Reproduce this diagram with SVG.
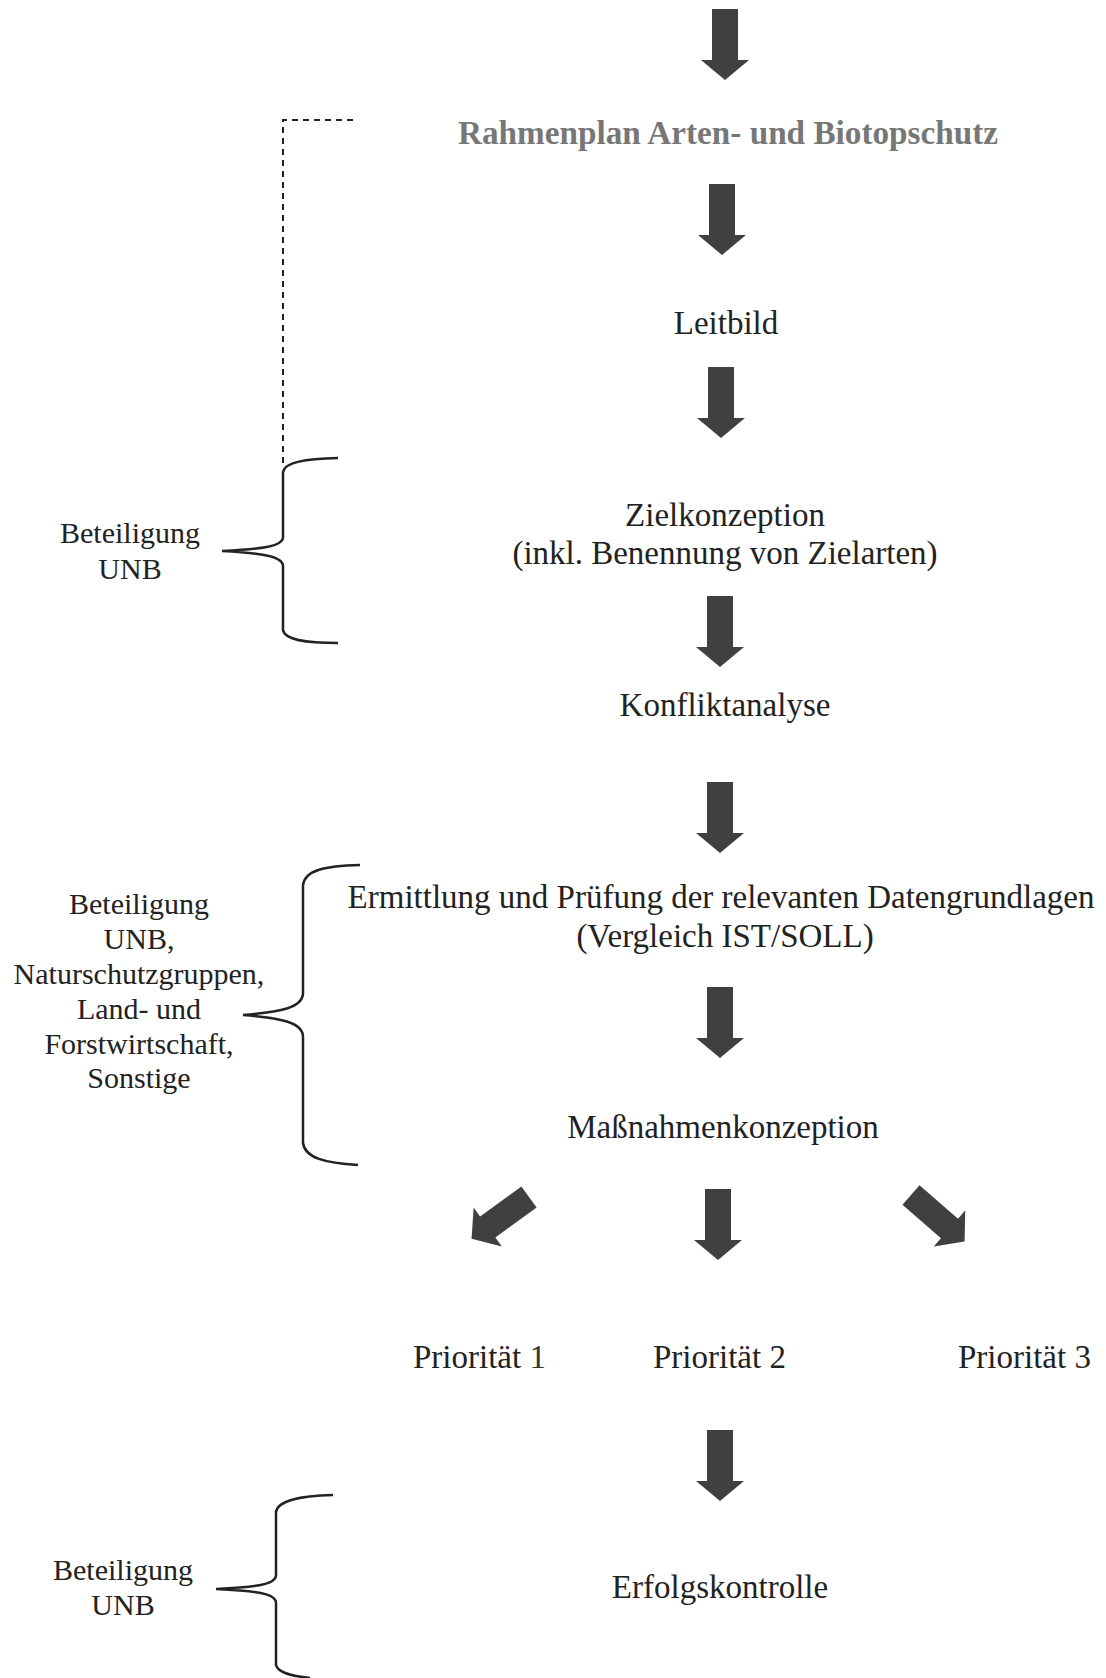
<svg xmlns="http://www.w3.org/2000/svg" xmlns:xlink="http://www.w3.org/1999/xlink" width="1106" height="1678" viewBox="0 0 1106 1678">
<style>
.t{font-family:"Liberation Serif","Times New Roman",serif;font-size:33px;fill:#222;text-anchor:middle}
.l{font-family:"Liberation Serif","Times New Roman",serif;font-size:30px;fill:#222;text-anchor:middle}
.g{font-family:"Liberation Serif","Times New Roman",serif;font-size:33px;font-weight:bold;fill:#777;text-anchor:middle}
.br{fill:none;stroke:#222;stroke-width:2.5}
.ds{fill:none;stroke:#222;stroke-width:2;stroke-dasharray:6,5}
</style>
<defs>
<path id="arr" d="M-13,0 H13 V51 H24 L0,71 L-24,51 H-13 Z" fill="#404040"/>
</defs>
<rect width="1106" height="1678" fill="#fff"/>
<g id="connectors">
<use xlink:href="#arr" transform="translate(725,9)"/>
<use xlink:href="#arr" transform="translate(722,184)"/>
<use xlink:href="#arr" transform="translate(721,367)"/>
<use xlink:href="#arr" transform="translate(720,596)"/>
<use xlink:href="#arr" transform="translate(720,782)"/>
<use xlink:href="#arr" transform="translate(720,987)"/>
<use xlink:href="#arr" transform="translate(529,1197) rotate(54)"/>
<use xlink:href="#arr" transform="translate(718,1189)"/>
<use xlink:href="#arr" transform="translate(911,1195) rotate(-49)"/>
<use xlink:href="#arr" transform="translate(720,1430)"/>
<path class="ds" d="M353,120 H283 V463"/>
</g>
<g id="rahmenplan"><text class="g" x="728" y="144" textLength="540" lengthAdjust="spacingAndGlyphs">Rahmenplan Arten- und Biotopschutz</text></g>
<g id="leitbild"><text class="t" x="726" y="334">Leitbild</text></g>
<g id="zielkonzeption"><text class="t" x="725" y="526">Zielkonzeption</text><text class="t" x="725" y="564">(inkl. Benennung von Zielarten)</text></g>
<g id="konfliktanalyse"><text class="t" x="725" y="716">Konfliktanalyse</text></g>
<g id="ermittlung"><text class="t" x="721" y="908">Ermittlung und Prüfung der relevanten Datengrundlagen</text><text class="t" x="725" y="947">(Vergleich IST/SOLL)</text></g>
<g id="massnahmen"><text class="t" x="723" y="1138">Maßnahmenkonzeption</text></g>
<g id="prio1"><text class="t" x="413" y="1368" style="text-anchor:start">Priorität <tspan fill="#333">1</tspan></text></g>
<g id="prio2"><text class="t" x="653" y="1368" style="text-anchor:start">Priorität 2</text></g>
<g id="prio3"><text class="t" x="958" y="1368" style="text-anchor:start">Priorität 3</text></g>
<g id="erfolgskontrolle"><text class="t" x="720" y="1598">Erfolgskontrolle</text></g>
<g id="beteiligung1">
<text class="l" x="130" y="543">Beteiligung</text><text class="l" x="130" y="579">UNB</text>
<path class="br" d="M338,458 C305,459 285,462 283,472 V537 C283,547 260,549 222,551 C260,553 283,556 283,566 V630 C285,640 305,643 338,643"/>
</g>
<g id="beteiligung2">
<text class="l" x="139" y="914">Beteiligung</text><text class="l" x="139" y="949">UNB,</text><text class="l" x="139" y="984">Naturschutzgruppen,</text><text class="l" x="139" y="1019">Land- und</text><text class="l" x="139" y="1054">Forstwirtschaft,</text><text class="l" x="139" y="1088">Sonstige</text>
<path class="br" d="M360,865 C325,866 305,870 303,885 V993 C303,1008 280,1012 243,1015 C280,1018 303,1022 303,1037 V1143 C305,1158 325,1163 358,1165"/>
</g>
<g id="beteiligung3">
<text class="l" x="123" y="1580">Beteiligung</text><text class="l" x="123" y="1615">UNB</text>
<path class="br" d="M333,1495 C300,1496 278,1500 276,1512 V1575 C276,1585 255,1587 216,1589 C255,1591 276,1593 276,1603 V1665 C278,1673 292,1676 310,1678"/>
</g>
</svg>
